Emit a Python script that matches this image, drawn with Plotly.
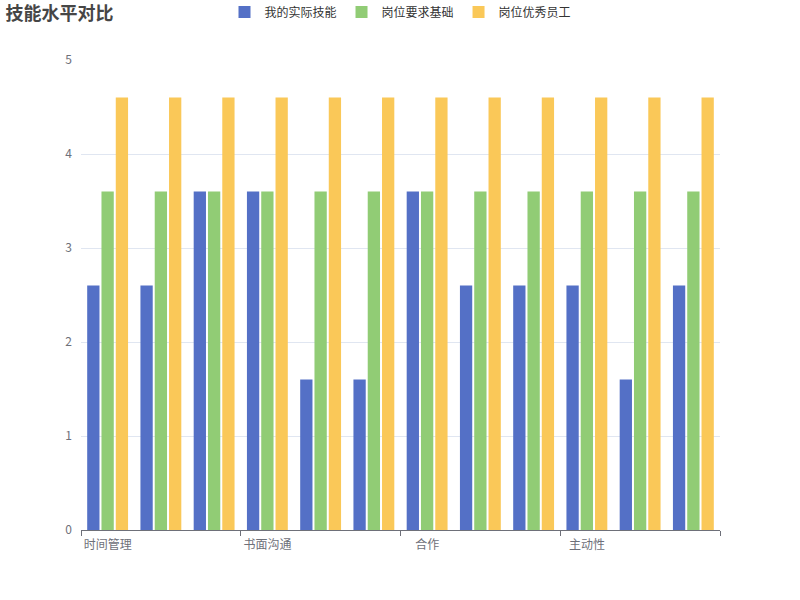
import plotly.graph_objects as go

categories = ["时间管理", "团队协作", "问题解决", "书面沟通", "口头表达", "学习能力",
              "合作", "创新思维", "执行力", "主动性", "领导力", "抗压能力"]
my_skill = [2.6, 2.6, 3.6, 3.6, 1.6, 1.6, 3.6, 2.6, 2.6, 2.6, 1.6, 2.6]
basic_req = [3.6] * 12
excellent = [4.6] * 12
series_names = ["我的实际技能", "岗位要求基础", "岗位优秀员工"]
colors = ["#5470c6", "#91cc75", "#fac858"]
shown_idx = [0, 3, 6, 9]

xs = list(range(len(categories)))
fig = go.Figure()
for name, vals, c in zip(series_names, [my_skill, basic_req, excellent], colors):
    fig.add_trace(go.Bar(x=xs, y=vals, name=name, marker=dict(color=c, line=dict(width=0)),
                         hovertext=categories))

fig.update_layout(
    width=800, height=600,
    margin=dict(l=81, r=80, t=60, b=70, autoexpand=False),
    paper_bgcolor="white", plot_bgcolor="white",
    font=dict(family="Noto Sans CJK SC, sans-serif", size=12, color="#6e7079"),
    title=dict(text="<b>技能水平对比</b>", x=0.007, xanchor="left", y=0.977, yanchor="middle",
               font=dict(size=18, color="#464646")),
    barmode="group", bargap=0.195, bargroupgap=0.14,
    legend=dict(orientation="h", x=0.5, xanchor="center", y=1.102, yanchor="middle",
                font=dict(size=12, color="#333"), itemwidth=30),
    xaxis=dict(range=[-0.5, 11.5], tickmode="array", tickvals=shown_idx,
               ticktext=[categories[i] for i in shown_idx], ticks="", automargin=False,
               showline=True, linecolor="#6e7079", linewidth=1, showgrid=False, zeroline=False,
               ticklabelstandoff=4,
               minor=dict(tick0=-0.5, dtick=3, ticks="outside", ticklen=5, tickcolor="#6e7079",
                          showgrid=False),
               tickfont=dict(size=12, color="#6e7079")),
    yaxis=dict(range=[0, 5], dtick=1, showgrid=True, gridcolor="#e0e6f1", zeroline=False,
               showline=False, ticks="", ticklabelstandoff=8, automargin=False,
               tickfont=dict(size=12, color="#6e7079")),
)
fig.write_html("out.html", config={"displayModeBar": False},
               post_script="document.body.style.margin='0';")
